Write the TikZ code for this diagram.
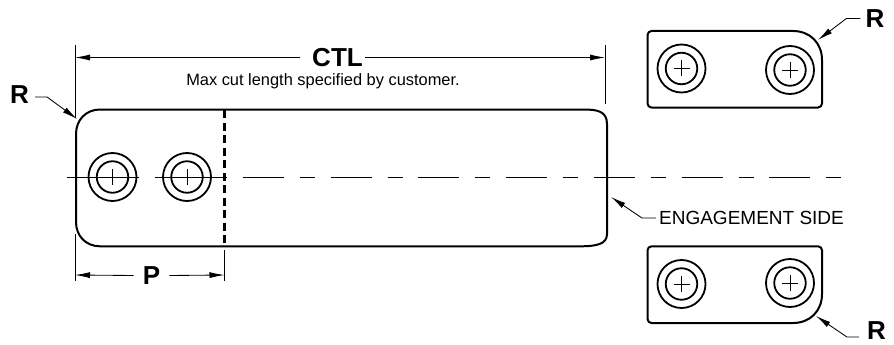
\documentclass[tikz,border=0pt]{standalone}
\usepackage{fontspec}
\setmainfont{Liberation Sans}
\usetikzlibrary{arrows.meta}

\tikzset{
	outline/.style = {line width=2pt, line join=round},
	thinline/.style = {line width=0.85pt},
	dimline/.style = {thinline, -{Latex[length=15pt,width=6pt]}},
	boldlabel/.style = {inner sep=0pt, font=\fontsize{26}{26}\selectfont\bfseries},
	smalllabel/.style = {inner sep=0pt, font=\fontsize{16.4}{17}\selectfont},
	sidelabel/.style = {inner sep=0pt, font=\fontsize{19}{20}\selectfont},
	holeouter/.style = {circle, draw, line width=1.8pt, inner sep=0pt, minimum size=48pt},
	holeinner/.style = {circle, draw, line width=1.8pt, inner sep=0pt, minimum size=31.5pt},
}

\begin{document}
\begin{tikzpicture}[x=1pt,y=-1pt]
\useasboundingbox (0,0) rectangle (894,345);

% main plate
\draw[outline] (100,109.5) -- (583,109.5)
	.. controls (597,109.5) and (607,111) .. (607,124)
	-- (607,234)
	.. controls (607,244) and (597,246.3) .. (580,246.3)
	-- (100,246.3)
	.. controls (86,246.3) and (76,236) .. (76,222)
	-- (76,134)
	.. controls (76,120) and (86,109.5) .. (100,109.5);
\draw[line width=2.2pt, dash pattern=on 8pt off 4.5pt] (224.5,110) -- (224.5,246);

% small plates
\draw[outline] (651.5,31) -- (793,31)
	.. controls (810,31) and (822,43) .. (822,60)
	-- (822,103.5) arc[start angle=0, end angle=90, radius=4]
	-- (651.5,107.5) arc[start angle=90, end angle=180, radius=4]
	-- (647.5,35) arc[start angle=180, end angle=270, radius=4];
\draw[outline] (651.5,246.3) -- (818,246.3) arc[start angle=-90, end angle=0, radius=4]
	-- (822,294)
	.. controls (822,311) and (810,323) .. (793,323)
	-- (651.5,323) arc[start angle=90, end angle=180, radius=4]
	-- (647.5,250.3) arc[start angle=180, end angle=270, radius=4];

% holes
\foreach \name/\x/\y in {holeA/112.5/177, holeB/187/177, holeC/681.5/68.5,
	holeD/790/70, holeE/681.5/284, holeF/790/283} {
	\node[holeouter] (\name) at (\x,\y) {};
	\node[holeinner] (\name i) at (\x,\y) {};
	\draw[thinline] (\name.center) +(-8,0) -- +(8,0) +(0,-8) -- +(0,8);
}

% centre lines
\draw[thinline] (67,177) -- (139,177);
\draw[thinline] (155,177) -- (227,177);
\draw[thinline, dash pattern=on 41pt off 16pt on 15pt off 15.7pt] (243,177) -- (842,177);

% CTL dimension
\coordinate (ctlL) at (75,57.5);
\coordinate (ctlR) at (605,57.5);
\node[boldlabel] (CTL) at (337.5,57.5) {CTL};
\node[smalllabel] (maxcut) at (323,81) {Max cut length specified by customer.};
\draw[thinline] (75,45) -- (75,118);
\draw[thinline] (605,45) -- (605,104);
\draw[dimline] ([xshift=-12pt]CTL.west) -- (ctlL);
\draw[dimline] ([xshift=2pt]CTL.east) -- (ctlR);

% P dimension
\coordinate (pL) at (75,275);
\coordinate (pR) at (224.5,275);
\node[boldlabel] (P) at (151.5,275.5) {P};
\draw[thinline] (75,234) -- (75,281);
\draw[thinline] (224.5,250) -- (224.5,281);
\draw[dimline] ([xshift=-9pt]P.west) -- (pL);
\draw[dimline] ([xshift=9pt]P.east) -- (pR);

% leaders
\node[boldlabel] (Rleft) at (19.5,95) {R};
\coordinate (RleftTip) at (77,119);
\draw[dimline] (Rleft.east) ++(6,2) -- ++(12,0) -- (RleftTip);
\node[boldlabel] (Rtop) at (875,18.5) {R};
\coordinate (RtopTip) at (818,40);
\draw[dimline] (Rtop.west) ++(-5,0) -- ++(-14,0) -- (RtopTip);
\node[boldlabel] (Rbot) at (876.5,331) {R};
\coordinate (RbotTip) at (816,316);
\draw[dimline] (Rbot.west) ++(-8,6) -- ++(-12,0) -- (RbotTip);
\node[sidelabel] (engage) at (751.5,218) {ENGAGEMENT SIDE};
\coordinate (engageTip) at (611,197);
\draw[dimline] (engage.west) ++(-3,0) -- ++(-14,0) -- (engageTip);
\end{tikzpicture}
\end{document}
